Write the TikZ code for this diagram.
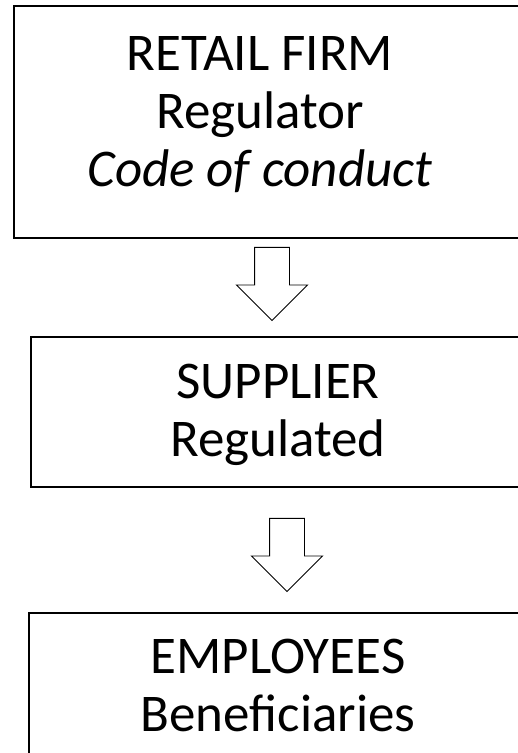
\documentclass[tikz,border=0pt]{standalone}
\usepackage{fontspec}
\setmainfont{Carlito}
\usetikzlibrary{shapes.arrows,positioning}

\begin{document}
\begin{tikzpicture}[x=1pt, y=1pt,
    box/.style={draw, rectangle, line width=1.2pt, inner sep=0pt},
    lbl/.style={align=center, inner sep=0pt, font=\fontsize{53}{58}\selectfont},
    flow/.style={draw, single arrow, rotate=-90, anchor=tail, line width=0.9pt, inner sep=0pt,
        minimum width=70pt, minimum height=73pt, single arrow head extend=18pt, single arrow head indent=0pt}]
    \useasboundingbox (0,0) rectangle (518,753);

    \node [box, minimum width=526pt, minimum height=232pt] (firm) at (277,631) {};
    \node [box, minimum width=509pt, minimum height=150pt] (sup) at (285.5,341) {};
    \node [box, minimum width=511pt, minimum height=167pt] (emp) at (284.5,56.5) {};

    \node [lbl, anchor=base] (firmtxt) at (260,566) {RETAIL FIRM\\Regulator\\\textit{Code of conduct}};
    \node [lbl, anchor=base] (suptxt) at (278,296) {SUPPLIER\\Regulated};
    \node [lbl, anchor=base] (emptxt) at (278,21) {EMPLOYEES\\Beneficiaries};

    % hollow arrows between the boxes
    \node [flow] (arr1) at (272,506) {\phantom{\rule{0pt}{34pt}}};
    \node [flow] (arr2) at (287,235) {\phantom{\rule{0pt}{34pt}}};
\end{tikzpicture}
\end{document}
